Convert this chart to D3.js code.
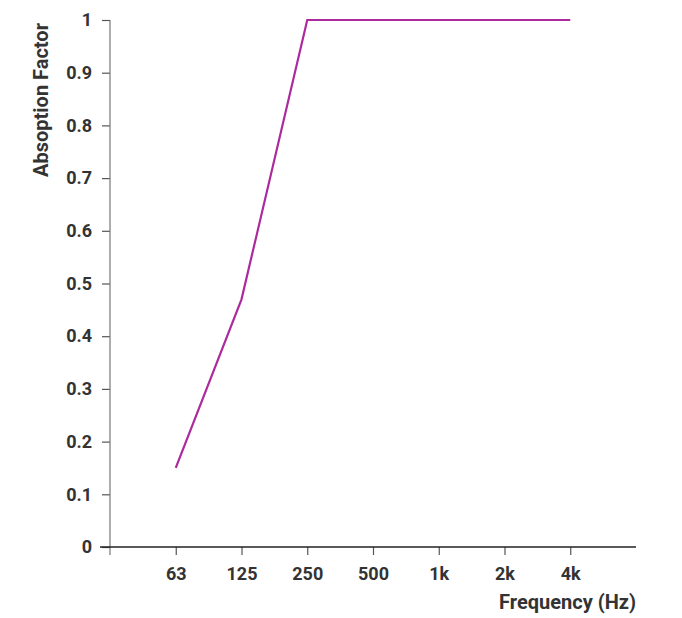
<!DOCTYPE html>
<html>
<head>
<meta charset="utf-8">
<script src="https://cdn.jsdelivr.net/npm/d3@7"></script>
<style>
  body { margin: 0; background: #fff; }
  text { font-family: Roboto, "Noto Sans", sans-serif; font-weight: 700; fill: #333; }
</style>
</head>
<body>
<svg id="plot"></svg>
<script>
// Chart data
const frequencies = ["63", "125", "250", "500", "1k", "2k", "4k"];
const absorption = [0.15, 0.47, 1, 1, 1, 1, 1];
const yTicks = [0, 0.1, 0.2, 0.3, 0.4, 0.5, 0.6, 0.7, 0.8, 0.9, 1];

const W = 682, H = 618;
const plot = {left: 110, right: 636, top: 20, bottom: 547};

const svg = d3.select("#plot")
    .attr("width", W)
    .attr("height", H);

// Scales
const x = d3.scalePoint()
    .domain(frequencies)
    .range([plot.left, plot.right])
    .padding(1);
const y = d3.scaleLinear()
    .domain([0, 1])
    .range([plot.bottom, plot.top]);

// Y axis (grey, runs a bit below the x axis)
const yAxis = svg.append("g")
    .attr("transform", "translate(" + plot.left + ",0)")
    .call(d3.axisLeft(y).tickValues(yTicks).tickSize(8).tickPadding(10)
      .tickFormat(d => d === 0 || d === 1 ? d3.format("d")(d) : d3.format(".1f")(d)));
yAxis.select(".domain").remove();
yAxis.append("line")
    .attr("x1", 0).attr("x2", 0)
    .attr("y1", plot.top).attr("y2", plot.bottom + 8)
    .attr("stroke", "#777").attr("stroke-width", 1.2);
yAxis.selectAll(".tick line").attr("stroke", "#555").attr("stroke-width", 1.2);
yAxis.selectAll(".tick text").style("font-size", "18px").attr("fill", "#333");

// X axis
const xAxis = svg.append("g")
    .attr("transform", "translate(0," + plot.bottom + ")")
    .call(d3.axisBottom(x).tickSize(8).tickPadding(12));
xAxis.select(".domain").remove();
xAxis.append("line")
    .attr("x1", plot.left - 10).attr("x2", plot.right)
    .attr("y1", 0).attr("y2", 0)
    .attr("stroke", "#222").attr("stroke-width", 1.4);
xAxis.selectAll(".tick line").attr("stroke", "#555").attr("stroke-width", 1.2);
xAxis.selectAll(".tick text").style("font-size", "18px").attr("fill", "#333");

// Axis titles
svg.append("text")
    .attr("x", plot.right)
    .attr("y", 609)
    .attr("text-anchor", "end")
    .style("font-size", "20px")
    .text("Frequency (Hz)");

svg.append("text")
    .attr("transform", "translate(48,100) rotate(-90)")
    .attr("text-anchor", "middle")
    .style("font-size", "20px")
    .text("Absoption Factor");

// The line
const line = d3.line()
    .x((d, i) => x(frequencies[i]))
    .y(d => y(d));

svg.append("path")
    .datum(absorption)
    .attr("fill", "none")
    .attr("stroke", "#ac2a9c")
    .attr("stroke-width", 2.2)
    .attr("d", line);
</script>
</body>
</html>
